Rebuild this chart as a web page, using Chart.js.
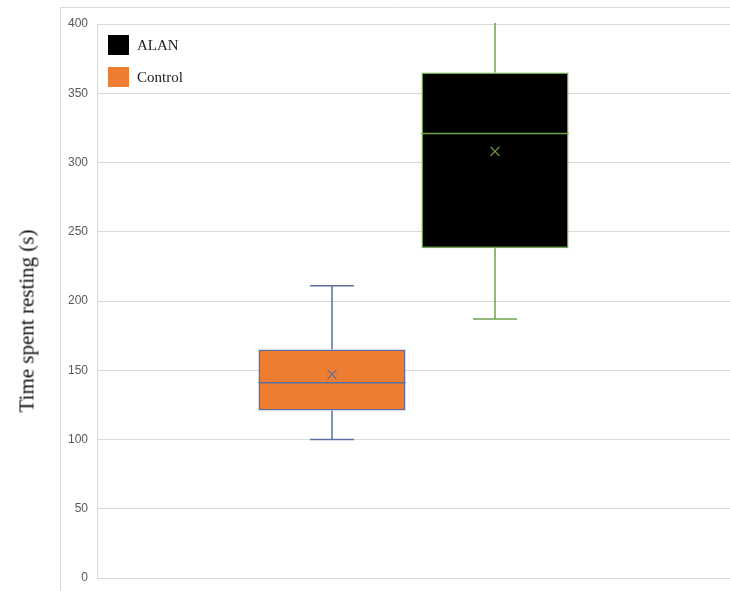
<!DOCTYPE html>
<html>
<head>
<meta charset="utf-8">
<script src="https://cdn.jsdelivr.net/npm/chart.js@4.4.0/dist/chart.umd.min.js"></script>
<style>
  body { margin: 0; background: #fff; }
  #wrap { position: relative; width: 730px; height: 591px; }
  #ytitle {
    position: absolute; left: 27px; top: 321px;
    transform: translate(-50%, -50%) rotate(-90deg);
    white-space: nowrap;
    font-family: "Liberation Serif", "DejaVu Serif", serif;
    font-size: 21px; color: #111;
  }
  #legend {
    position: absolute; left: 108px; top: 35px;
    font-family: "Liberation Serif", "DejaVu Serif", serif;
    font-size: 15px; color: #222;
  }
  .item { display: flex; align-items: center; height: 20px; margin-bottom: 12px; }
  .swatch { width: 21px; height: 20px; margin-right: 8px; }
</style>
</head>
<body>
<div id="wrap">
  <canvas id="chart"></canvas>
  <div id="ytitle">Time spent resting (s)</div>
  <div id="legend"></div>
</div>
<script>
const groups = ["Control", "ALAN"];
const minVals = [100, 187];
const q1Vals = [121, 238];
const medianVals = [141, 321];
const q3Vals = [165, 365];
const maxVals = [211, 415];
const meanVals = [147, 308];
const fillColors = ["#ED7D31", "#000000"];
const lineColors = ["#5B6FA0", "#6FA44C"];
const yMin = 0, yMax = 400, yStep = 50;

// legend is listed in reverse order, like the original
const legend = document.getElementById("legend");
for (let i = groups.length - 1; i >= 0; i--) {
    const row = document.createElement("div");
    row.className = "item";
    row.innerHTML = '<span class="swatch" style="background:' + fillColors[i] + '"></span>' + groups[i];
    legend.appendChild(row);
}

const frame = {
    id: "frame",
    beforeDraw(chart) {
        const ctx = chart.ctx;
        ctx.save();
        ctx.strokeStyle = "#D9D9D9";
        ctx.lineWidth = 1;
        ctx.beginPath();
        ctx.moveTo(60.5, chart.height);
        ctx.lineTo(60.5, 7.5);
        ctx.lineTo(chart.width, 7.5);
        ctx.stroke();
        ctx.restore();
    }
};

const boxParts = {
    id: "boxParts",
    afterDatasetsDraw(chart) {
        const ctx = chart.ctx;
        const y = chart.scales.y;
        const area = chart.chartArea;
        ctx.save();
        ctx.beginPath();
        ctx.rect(area.left, area.top - 1, area.right - area.left, area.bottom - area.top + 2);
        ctx.clip();
        chart.data.datasets.forEach((ds, i) => {
            const bar = chart.getDatasetMeta(i).data[0];
            const cx = bar.x;
            const half = bar.width / 2;
            const cap = bar.width * 0.15;
            ctx.strokeStyle = lineColors[i];
            ctx.lineWidth = 1.5;
            ctx.beginPath();
            // whiskers
            ctx.moveTo(cx, y.getPixelForValue(q3Vals[i]));
            ctx.lineTo(cx, y.getPixelForValue(maxVals[i]));
            ctx.moveTo(cx - cap, y.getPixelForValue(maxVals[i]));
            ctx.lineTo(cx + cap, y.getPixelForValue(maxVals[i]));
            ctx.moveTo(cx, y.getPixelForValue(q1Vals[i]));
            ctx.lineTo(cx, y.getPixelForValue(minVals[i]));
            ctx.moveTo(cx - cap, y.getPixelForValue(minVals[i]));
            ctx.lineTo(cx + cap, y.getPixelForValue(minVals[i]));
            // median
            ctx.moveTo(cx - half, y.getPixelForValue(medianVals[i]));
            ctx.lineTo(cx + half, y.getPixelForValue(medianVals[i]));
            ctx.stroke();
            // mean marker
            const my = y.getPixelForValue(meanVals[i]);
            ctx.lineWidth = 1.2;
            ctx.beginPath();
            ctx.moveTo(cx - 4.5, my - 4.5);
            ctx.lineTo(cx + 4.5, my + 4.5);
            ctx.moveTo(cx - 4.5, my + 4.5);
            ctx.lineTo(cx + 4.5, my - 4.5);
            ctx.stroke();
        });
        ctx.restore();
    }
};

new Chart(document.getElementById("chart"), {
    type: "bar",
    data: {
        labels: [""],
        datasets: groups.map((g, i) => ({
            label: g,
            data: [[q1Vals[i], q3Vals[i]]],
            backgroundColor: fillColors[i],
            borderColor: lineColors[i],
            borderWidth: 1.5,
            borderSkipped: false,
            categoryPercentage: 0.515,
            barPercentage: 0.902
        }))
    },
    options: {
        responsive: true,
        maintainAspectRatio: false,
        animation: false,
        layout: { padding: { left: 0, right: 0, top: 24, bottom: 13 } },
        plugins: {
            legend: { display: false },
            tooltip: { enabled: false }
        },
        scales: {
            x: { display: false },
            y: {
                min: yMin,
                max: yMax,
                ticks: {
                    stepSize: yStep,
                    padding: 9,
                    color: "#595959",
                    font: { family: "Liberation Sans, Arial, sans-serif", size: 12 }
                },
                grid: { color: "#D9D9D9", drawTicks: false },
                border: { color: "#D9D9D9" },
                afterFit(scale) {
                    scale.width = 97;
                    scale.paddingTop = 0;
                    scale.paddingBottom = 0;
                }
            }
        }
    },
    plugins: [frame, boxParts]
});
</script>
</body>
</html>
